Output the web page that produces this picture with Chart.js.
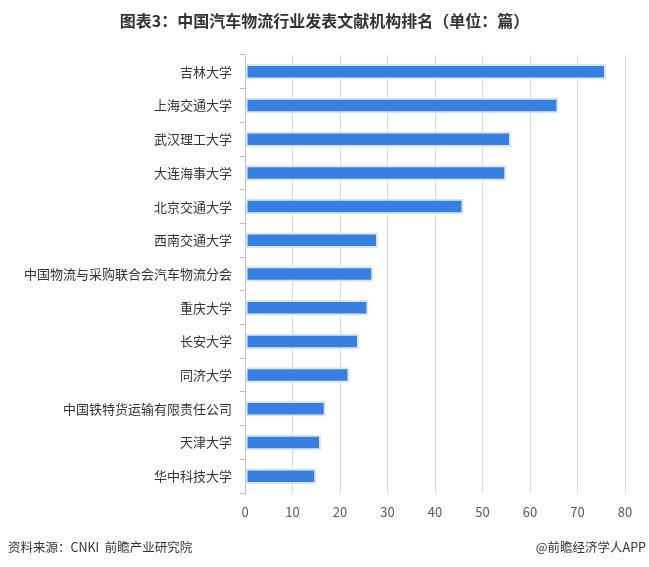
<!DOCTYPE html>
<html><head><meta charset="utf-8">
<script src="https://cdn.jsdelivr.net/npm/chart.js@4/dist/chart.umd.min.js"></script>
<style>
html,body{margin:0;padding:0;background:#fff;}
#wrap{position:relative;width:649px;height:567px;}
canvas{position:absolute;left:0;top:0;}
.t{position:absolute;font-family:"Noto Sans CJK SC","Noto Sans",sans-serif;color:#333;white-space:nowrap;}
</style></head>
<body>
<div id="wrap">
<canvas id="c" width="649" height="567"></canvas>
<div class="t" style="left:0;width:649px;top:8px;text-align:center;font-size:16px;font-weight:bold;line-height:24px;">图表3：中国汽车物流行业发表文献机构排名（单位：篇）</div>
<div class="t" style="left:8px;top:538px;font-size:12.5px;line-height:18px;">资料来源：CNKI&nbsp; 前瞻产业研究院</div>
<div class="t" style="right:3px;top:538px;font-size:12.5px;line-height:18px;">@前瞻经济学人APP</div>
</div>
<script>
const categories = ["吉林大学","上海交通大学","武汉理工大学","大连海事大学","北京交通大学","西南交通大学","中国物流与采购联合会汽车物流分会","重庆大学","长安大学","同济大学","中国铁特货运输有限责任公司","天津大学","华中科技大学"];
const values = [76,66,56,55,46,28,27,26,24,22,17,16,15];
const xTicks = [0,10,20,30,40,50,60,70,80];

new Chart(document.getElementById('c'), {
  type: 'bar',
  data: {
    labels: categories,
    datasets: [{
      data: values,
      backgroundColor: '#3780E2',
      borderColor: '#D8E5F4',
      borderWidth: 2,
      borderSkipped: false,
      barPercentage: 0.46,
      categoryPercentage: 1.0
    }]
  },
  options: {
    indexAxis: 'y',
    responsive: false,
    animation: false,
    layout: { padding: { left: 0, right: 24, top: 55, bottom: 44 } },
    plugins: { legend: { display: false }, tooltip: { enabled: false }, title: { display: false } },
    scales: {
      x: {
        min: 0, max: 80,
        afterBuildTicks: (s) => { s.ticks = xTicks.map(v => ({ value: v })); },
        afterFit: (s) => { s.height = 30; },
        grid: { color: '#D9D9D9', lineWidth: 1, drawTicks: false },
        border: { display: false },
        ticks: { color: '#595959', padding: 11, font: { size: 13, family: '"Noto Sans CJK SC", sans-serif' } }
      },
      y: {
        afterFit: (s) => { s.width = 245; },
        grid: { display: true, drawOnChartArea: false, drawTicks: true, tickLength: 5, color: '#BFBFBF', offset: true },
        border: { display: true, color: '#BFBFBF', width: 1 },
        ticks: { color: '#333', padding: 8, font: { size: 13, family: '"Noto Sans CJK SC", sans-serif' } }
      }
    }
  }
});
</script>
</body></html>
